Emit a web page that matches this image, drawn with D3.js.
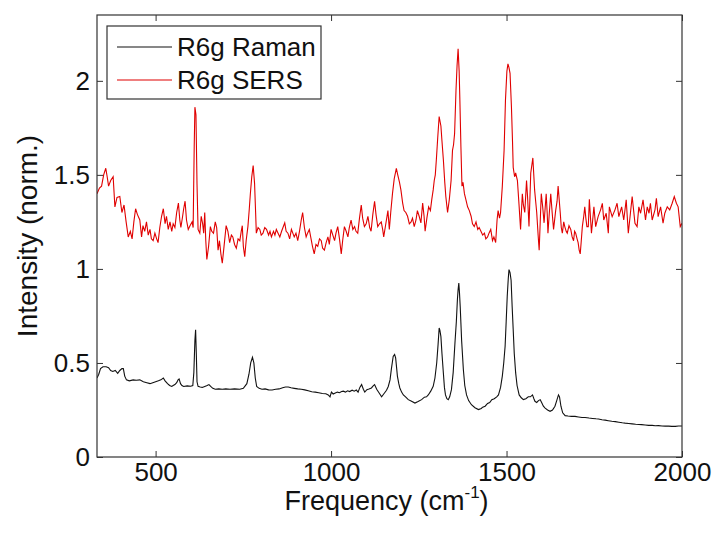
<!DOCTYPE html>
<html>
<head>
<meta charset="utf-8">
<script src="https://cdn.jsdelivr.net/npm/d3@7"></script>
<style>
  body { margin: 0; background: #fff; }
  svg text { font-family: "Liberation Sans", Arial, sans-serif; fill: #111; }
</style>
</head>
<body>
<svg id="chart" width="717" height="533"></svg>
<script>
// Raman spectrum of R6g (black)
const ramanFreq = [333,338,343,350,359,366,372,378,385,392,398,404,408,412,417,425,436,445,455,465,475,484,492,500,508,515,522,527,534,540,546,550,555,560,564,567,571,575,580,590,600,606,609,612,614,616,618,621,627,633,640,647,652,657,663,670,680,690,700,712,725,740,750,760,766,771,776,780,784,788,795,803,812,822,832,842,852,862,870,878,886,895,905,915,925,935,945,955,965,975,985,992,997,1001,1006,1012,1018,1024,1030,1035,1041,1047,1053,1060,1066,1072,1077,1082,1087,1092,1096,1102,1108,1115,1120,1124,1130,1137,1144,1150,1158,1163,1168,1172,1177,1181,1184,1187,1189,1193,1196,1201,1206,1213,1220,1228,1239,1248,1258,1266,1272,1277,1284,1291,1296,1301,1305,1308,1310,1313,1316,1320,1323,1326,1330,1334,1338,1343,1348,1353,1357,1360,1362,1364,1366,1368,1372,1377,1381,1386,1392,1400,1410,1420,1428,1432,1439,1446,1452,1458,1465,1472,1477,1483,1488,1492,1496,1499,1502,1505,1507,1510,1513,1516,1519,1522,1526,1530,1536,1542,1548,1555,1562,1568,1574,1578,1581,1586,1591,1596,1600,1605,1610,1617,1624,1631,1638,1643,1648,1651,1655,1660,1667,1675,1685,1695,1705,1715,1724,1735,1745,1755,1762,1772,1781,1790,1800,1810,1820,1830,1838,1848,1858,1868,1877,1885,1895,1905,1915,1924,1933,1943,1952,1962,1971,1981,1990,2000];
const ramanInt = [0.42,0.44,0.47,0.48,0.48,0.475,0.46,0.455,0.46,0.445,0.46,0.47,0.47,0.43,0.41,0.405,0.41,0.408,0.41,0.40,0.395,0.39,0.395,0.40,0.405,0.41,0.42,0.405,0.39,0.38,0.375,0.38,0.385,0.395,0.41,0.415,0.39,0.38,0.375,0.378,0.376,0.38,0.45,0.62,0.677,0.55,0.40,0.376,0.372,0.37,0.375,0.38,0.385,0.375,0.365,0.36,0.362,0.36,0.362,0.36,0.362,0.36,0.365,0.39,0.44,0.50,0.53,0.50,0.42,0.375,0.365,0.36,0.362,0.357,0.356,0.36,0.362,0.368,0.372,0.372,0.368,0.365,0.362,0.36,0.357,0.352,0.347,0.345,0.342,0.338,0.336,0.33,0.32,0.345,0.335,0.34,0.345,0.342,0.348,0.35,0.345,0.352,0.348,0.355,0.35,0.356,0.345,0.37,0.385,0.36,0.345,0.358,0.362,0.367,0.378,0.385,0.36,0.34,0.32,0.335,0.355,0.375,0.41,0.47,0.535,0.545,0.527,0.47,0.43,0.39,0.367,0.345,0.33,0.318,0.305,0.298,0.287,0.295,0.305,0.318,0.32,0.33,0.35,0.376,0.42,0.50,0.60,0.686,0.675,0.64,0.55,0.447,0.37,0.33,0.31,0.305,0.32,0.358,0.45,0.606,0.72,0.837,0.89,0.925,0.87,0.80,0.62,0.464,0.38,0.33,0.30,0.278,0.262,0.252,0.258,0.265,0.27,0.285,0.29,0.305,0.31,0.32,0.33,0.37,0.43,0.50,0.59,0.72,0.855,0.95,0.996,0.98,0.94,0.80,0.677,0.55,0.447,0.38,0.33,0.315,0.305,0.31,0.32,0.32,0.33,0.31,0.296,0.29,0.30,0.305,0.29,0.27,0.26,0.25,0.243,0.25,0.27,0.30,0.33,0.32,0.27,0.235,0.22,0.218,0.216,0.216,0.213,0.21,0.21,0.207,0.205,0.203,0.202,0.198,0.196,0.193,0.19,0.188,0.185,0.182,0.18,0.178,0.176,0.174,0.173,0.172,0.17,0.168,0.168,0.166,0.167,0.165,0.164,0.164,0.163,0.163,0.165,0.165];

// SERS spectrum of R6g (red)
const sersFreq = [333,340,346,352,358,362,366,372,379,384,390,398,404,410,416,422,428,433,438,443,448,455,460,464,469,474,479,484,488,493,498,503,507,512,517,522,527,531,536,541,546,550,555,560,565,569,572,577,580,584,588,593,598,604,607,610,612,615,618,621,626,630,634,637,640,643,646,651,656,660,665,670,674,678,682,686,690,695,701,706,711,716,720,725,730,735,740,744,747,750,754,758,763,767,770,774,778,782,785,787,792,797,801,806,811,816,822,826,830,836,840,844,849,854,859,863,868,872,877,882,887,891,895,900,905,910,915,919,924,929,933,938,943,947,952,957,962,967,972,976,981,986,991,995,1000,1005,1010,1014,1019,1024,1029,1033,1038,1043,1048,1052,1057,1062,1067,1071,1076,1081,1086,1090,1095,1100,1105,1110,1114,1119,1124,1128,1133,1138,1143,1147,1150,1156,1162,1166,1170,1175,1180,1186,1190,1195,1199,1204,1208,1213,1218,1223,1228,1232,1237,1242,1246,1251,1256,1261,1265,1268,1273,1278,1283,1287,1291,1294,1297,1300,1304,1308,1313,1316,1320,1324,1327,1332,1337,1342,1346,1349,1352,1356,1359,1362,1365,1367,1370,1373,1376,1380,1384,1389,1394,1399,1403,1408,1413,1418,1422,1427,1432,1437,1441,1446,1450,1455,1460,1464,1469,1473,1476,1480,1483,1488,1493,1497,1501,1504,1507,1510,1514,1517,1519,1523,1526,1531,1536,1540,1545,1548,1552,1557,1560,1564,1569,1575,1580,1583,1586,1590,1593,1596,1599,1603,1607,1613,1616,1618,1622,1626,1630,1634,1640,1644,1647,1653,1656,1659,1663,1666,1670,1673,1678,1683,1687,1691,1694,1697,1701,1704,1707,1710,1713,1716,1720,1723,1726,1729,1733,1736,1742,1749,1754,1761,1768,1773,1777,1784,1790,1793,1801,1809,1815,1820,1828,1834,1841,1847,1853,1858,1866,1872,1877,1882,1889,1896,1901,1906,1910,1915,1923,1927,1932,1939,1946,1951,1958,1965,1972,1978,1984,1989,1995,2000];
const sersInt = [1.40,1.43,1.44,1.50,1.535,1.49,1.44,1.47,1.49,1.33,1.38,1.385,1.30,1.34,1.25,1.17,1.20,1.16,1.25,1.32,1.29,1.26,1.17,1.23,1.20,1.25,1.18,1.21,1.16,1.15,1.19,1.16,1.14,1.22,1.28,1.32,1.24,1.28,1.21,1.25,1.20,1.24,1.22,1.30,1.35,1.26,1.22,1.28,1.32,1.36,1.26,1.21,1.23,1.25,1.22,1.65,1.86,1.82,1.45,1.21,1.19,1.28,1.24,1.19,1.30,1.15,1.05,1.12,1.225,1.20,1.19,1.25,1.22,1.10,1.15,1.08,1.03,1.12,1.23,1.20,1.14,1.18,1.17,1.13,1.11,1.16,1.15,1.20,1.23,1.12,1.065,1.15,1.225,1.32,1.40,1.49,1.55,1.455,1.30,1.19,1.22,1.21,1.18,1.19,1.22,1.21,1.18,1.20,1.17,1.20,1.18,1.21,1.19,1.17,1.20,1.22,1.245,1.20,1.19,1.16,1.21,1.19,1.17,1.19,1.15,1.20,1.26,1.30,1.22,1.17,1.19,1.21,1.16,1.12,1.08,1.13,1.12,1.16,1.15,1.11,1.10,1.14,1.17,1.13,1.21,1.18,1.15,1.19,1.225,1.16,1.08,1.15,1.225,1.20,1.17,1.22,1.26,1.21,1.225,1.20,1.19,1.27,1.34,1.27,1.225,1.24,1.28,1.22,1.20,1.29,1.36,1.29,1.225,1.24,1.25,1.21,1.17,1.24,1.31,1.21,1.30,1.40,1.48,1.535,1.50,1.46,1.42,1.35,1.31,1.30,1.28,1.24,1.25,1.27,1.225,1.26,1.31,1.28,1.245,1.35,1.28,1.20,1.27,1.33,1.31,1.37,1.42,1.47,1.50,1.58,1.70,1.81,1.76,1.68,1.58,1.46,1.385,1.30,1.37,1.47,1.63,1.66,1.72,1.95,2.08,2.17,2.05,1.90,1.65,1.44,1.46,1.40,1.37,1.33,1.31,1.28,1.24,1.225,1.25,1.21,1.22,1.20,1.18,1.19,1.16,1.17,1.19,1.21,1.15,1.17,1.14,1.26,1.31,1.27,1.30,1.44,1.63,1.90,2.05,2.09,2.07,2.04,1.86,1.68,1.54,1.49,1.51,1.47,1.33,1.21,1.40,1.34,1.30,1.47,1.38,1.225,1.51,1.59,1.42,1.36,1.30,1.18,1.10,1.25,1.40,1.33,1.245,1.40,1.29,1.19,1.30,1.40,1.30,1.21,1.31,1.36,1.44,1.30,1.22,1.19,1.25,1.225,1.20,1.19,1.23,1.21,1.17,1.15,1.20,1.19,1.16,1.14,1.10,1.08,1.15,1.225,1.28,1.33,1.27,1.225,1.225,1.37,1.19,1.33,1.225,1.278,1.314,1.349,1.26,1.296,1.19,1.33,1.278,1.314,1.349,1.278,1.33,1.26,1.367,1.19,1.296,1.385,1.243,1.225,1.33,1.296,1.367,1.26,1.33,1.296,1.349,1.26,1.314,1.376,1.278,1.33,1.243,1.296,1.33,1.314,1.349,1.385,1.349,1.33,1.225,1.243];

const xTicks = [500, 1000, 1500, 2000];
const yTicks = [0, 0.5, 1, 1.5, 2];
const seriesNames = ['R6g Raman', 'R6g SERS'];
const seriesColors = ['#111111', '#e00000'];

const svg = d3.select('#chart');
const mLeft = 97, mRight = 682, mTop = 15, mBottom = 457;

let x = d3.scaleLinear().domain([333, 2000]).range([mLeft, mRight]);
let y = d3.scaleLinear().domain([0, 2.35]).range([mBottom, mTop]);

svg.append('clipPath').attr('id', 'plot')
  .append('rect')
  .attr('x', mLeft).attr('y', mTop)
  .attr('width', mRight - mLeft).attr('height', mBottom - mTop);

let line = d3.line()
  .x(d => x(d[0]))
  .y(d => y(d[1]));

let raman = ramanFreq.map((f, i) => [f, ramanInt[i]]);
let sers = sersFreq.map((f, i) => [f, sersInt[i]]);

svg.append('path')
  .datum(raman)
  .attr('clip-path', 'url(#plot)')
  .attr('fill', 'none')
  .attr('stroke', seriesColors[0])
  .attr('stroke-width', 1.1)
  .attr('d', line);

svg.append('path')
  .datum(sers)
  .attr('clip-path', 'url(#plot)')
  .attr('fill', 'none')
  .attr('stroke', seriesColors[1])
  .attr('stroke-width', 1.1)
  .attr('d', line);

// axes, matlab style: ticks inward on all four sides
const tickStyle = g => {
  g.select('.domain').remove();
  g.selectAll('line').attr('stroke', '#333');
  g.selectAll('text').attr('font-size', 26).attr('fill', '#111')
    .attr('font-family', '"Liberation Sans", Arial, sans-serif');
};

svg.append('g')
  .attr('transform', `translate(0,${mBottom})`)
  .call(d3.axisBottom(x).tickValues(xTicks).tickSizeInner(-6).tickSizeOuter(0).tickPadding(6).tickFormat(d3.format('d')))
  .call(tickStyle);

svg.append('g')
  .attr('transform', `translate(0,${mTop})`)
  .call(d3.axisTop(x).tickValues(xTicks).tickSizeInner(-6).tickSizeOuter(0).tickFormat(''))
  .call(tickStyle);

svg.append('g')
  .attr('transform', `translate(${mLeft},0)`)
  .call(d3.axisLeft(y).tickValues(yTicks).tickSizeInner(-6).tickSizeOuter(0).tickPadding(7).tickFormat(d3.format('')))
  .call(tickStyle);

svg.append('g')
  .attr('transform', `translate(${mRight},0)`)
  .call(d3.axisRight(y).tickValues(yTicks).tickSizeInner(-6).tickSizeOuter(0).tickFormat(''))
  .call(tickStyle);

svg.append('rect')
  .attr('x', mLeft).attr('y', mTop)
  .attr('width', mRight - mLeft).attr('height', mBottom - mTop)
  .attr('fill', 'none')
  .attr('stroke', '#333')
  .attr('stroke-width', 1.2);

// axis labels
let xl = svg.append('text')
  .attr('x', (mLeft + mRight) / 2 - 3)
  .attr('y', 510)
  .attr('text-anchor', 'middle')
  .attr('font-size', 27);
xl.append('tspan').text('Frequency (cm');
xl.append('tspan').text('-1').attr('font-size', 17).attr('dy', -12);
xl.append('tspan').text(')').attr('dy', 12);

svg.append('text')
  .attr('transform', `translate(37,${(mTop + mBottom) / 2}) rotate(-90)`)
  .attr('text-anchor', 'middle')
  .attr('font-size', 28)
  .text('Intensity (norm.)');

// legend
let legend = svg.append('g');
legend.append('rect')
  .attr('x', 107).attr('y', 26)
  .attr('width', 214).attr('height', 73)
  .attr('fill', '#fff')
  .attr('stroke', '#333')
  .attr('stroke-width', 1.2);

seriesNames.forEach((name, i) => {
  let cy = 47 + i * 33;
  legend.append('line')
    .attr('x1', 117).attr('x2', 172)
    .attr('y1', cy).attr('y2', cy)
    .attr('stroke', seriesColors[i])
    .attr('stroke-width', 1.1);
  legend.append('text')
    .attr('x', 177).attr('y', cy + 9)
    .attr('font-size', 26)
    .text(name);
});
</script>
</body>
</html>
